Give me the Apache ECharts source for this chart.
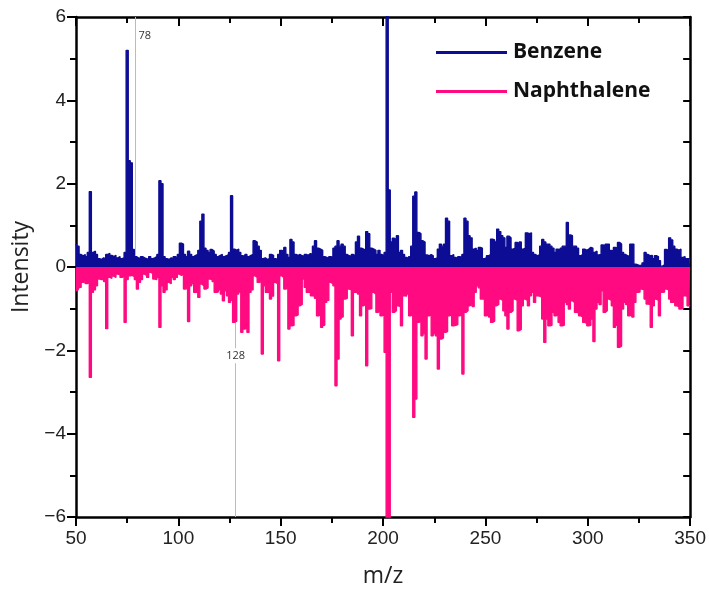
<!DOCTYPE html>
<html>
<head>
<meta charset="utf-8">
<script src="https://cdn.jsdelivr.net/npm/echarts@6/dist/echarts.min.js"></script>
<style>
html,body{margin:0;padding:0;background:#fff;}
#chart{width:709px;height:593px;}
</style>
</head>
<body>
<div id="chart"></div>
<script>
// m/z starts at 50, one value per integer m/z up to 350
const mzStart = 50;
const benzene = [
0.55,0.5,0.3,0.27,0.3,0.25,0.35,1.81,0.35,0.38,
0.3,0.2,0.18,0.22,0.2,0.3,0.33,0.28,0.25,0.28,
0.22,0.25,0.2,0.22,0.35,5.2,2.55,2.5,0.42,0.25,
0.22,0.2,0.25,0.22,0.2,0.18,0.25,0.2,0.22,0.25,
0.3,2.07,2.0,0.25,0.2,0.18,0.22,0.2,0.25,0.22,
0.3,0.57,0.55,0.3,0.25,0.38,0.3,0.25,0.28,0.3,
0.4,1.1,1.27,0.45,0.4,0.35,0.42,0.38,0.3,0.25,
0.28,0.3,0.25,0.27,0.3,0.35,1.71,0.43,0.4,0.43,
0.35,0.27,0.25,0.3,0.25,0.28,0.3,0.63,0.6,0.5,
0.4,0.2,0.22,0.18,0.2,0.3,0.28,0.2,0.18,0.3,
0.4,0.38,0.47,0.3,0.23,0.66,0.6,0.3,0.28,0.3,
0.27,0.25,0.3,0.28,0.32,0.3,0.5,0.63,0.45,0.43,
0.4,0.25,0.23,0.2,0.25,0.23,0.45,0.5,0.63,0.5,
0.55,0.5,0.3,0.27,0.25,0.3,0.27,0.6,0.74,0.45,
0.43,0.4,0.85,0.8,0.45,0.43,0.4,0.3,0.4,0.3,
0.27,0.35,7,1.85,0.6,0.69,0.65,0.75,0.35,0.4,
0.3,0.23,0.2,0.25,0.5,1.7,1.8,0.83,0.8,0.63,
0.6,0.29,0.27,0.3,0.27,0.2,0.22,0.43,0.55,0.5,
0.55,1.17,1.1,0.27,0.3,0.23,0.2,0.25,0.23,0.3,
1.17,1.1,0.75,0.7,0.43,0.45,0.4,0.47,0.45,0.2,
0.22,0.27,0.3,0.67,0.65,0.6,0.91,0.85,0.75,0.7,
0.47,0.74,0.7,0.43,0.45,0.59,0.55,0.6,0.43,0.45,
0.82,0.8,0.82,0.35,0.3,0.27,0.3,0.5,0.66,0.6,
0.55,0.55,0.5,0.45,0.35,0.43,0.4,0.45,0.5,0.5,
1.07,0.77,0.75,0.5,0.5,0.45,0.27,0.3,0.43,0.4,
0.43,0.47,0.45,0.35,0.38,0.29,0.3,0.53,0.5,0.55,
0.55,0.4,0.38,0.47,0.45,0.59,0.55,0.35,0.3,0.27,
0.25,0.55,0.55,0.07,0.05,0.03,0.05,0.1,0.35,0.3,
0.27,0.28,0.2,0.27,0.25,0.15,0.02,0.05,0.42,0.4,
0.7,0.65,0.5,0.43,0.4,0.43,0.23,0.25,0.2,0.2,
0.2
];
const naphthalene = [
-0.57,-0.55,-0.49,-0.37,-0.35,-0.4,-0.37,-2.65,-0.61,-0.55,
-0.45,-0.29,-0.3,-0.3,-0.35,-1.48,-0.25,-0.27,-0.22,-0.25,
-0.17,-0.19,-0.25,-0.22,-1.33,-0.3,-0.21,-0.2,-0.23,-0.3,
-0.53,-0.37,-0.3,-0.17,-0.2,-0.25,-0.13,-0.15,-0.29,-0.3,
-0.25,-1.45,-0.45,-0.61,-0.55,-0.37,-0.4,-0.25,-0.3,-0.25,
-0.17,-0.2,-0.17,-0.53,-0.5,-1.31,-0.45,-0.4,-0.61,-0.6,
-0.73,-0.41,-0.45,-0.53,-0.5,-0.29,-0.3,-0.35,-0.61,-0.6,
-0.55,-0.65,-0.81,-0.57,-0.69,-0.85,-0.8,-1.33,-1.3,-0.65,
-0.6,-1.57,-1.49,-1.45,-1.57,-0.61,-0.55,-0.21,-0.25,-0.37,
-0.35,-2.09,-0.45,-0.61,-0.6,-0.77,-0.7,-0.37,-0.4,-2.25,
-0.21,-0.25,-0.53,-0.5,-1.49,-1.41,-1.4,-1.17,-1.15,-0.93,
-0.9,-0.29,-0.49,-0.61,-0.6,-0.69,-0.7,-0.75,-1.17,-1.15,
-1.45,-1.4,-0.85,-0.8,-0.37,-0.4,-0.45,-2.85,-2.21,-1.25,
-1.2,-0.77,-0.75,-0.53,-0.55,-1.65,-0.61,-0.6,-0.65,-1.17,
-0.93,-0.9,-2.37,-1.01,-1.0,-0.61,-0.65,-1.09,-1.05,-1.17,
-1.15,-2.05,-7,-7,-0.61,-1.09,-1.05,-0.93,-0.95,-1.41,
-0.69,-0.7,-0.65,-1.17,-1.15,-3.61,-3.17,-1.33,-1.3,-1.65,
-1.6,-2.21,-1.17,-1.15,-1.65,-1.6,-1.65,-2.45,-1.73,-1.7,
-1.57,-1.55,-1.17,-1.15,-1.41,-1.4,-1.38,-1.17,-1.15,-2.57,
-1.09,-1.05,-0.93,-0.9,-0.95,-0.61,-0.45,-0.5,-0.77,-0.75,
-1.17,-1.15,-1.2,-1.33,-1.3,-0.93,-0.9,-0.77,-0.8,-1.05,
-1.17,-1.49,-1.09,-1.05,-0.77,-0.8,-1.53,-1.5,-0.93,-0.77,
-0.8,-0.93,-0.69,-0.61,-0.85,-0.69,-0.7,-0.72,-1.25,-1.81,
-1.25,-1.41,-1.4,-1.09,-1.17,-1.15,-1.33,-1.41,-1.4,-0.85,
-0.9,-1.01,-0.81,-0.85,-1.09,-1.1,-1.17,-1.2,-1.33,-1.35,
-1.41,-1.4,-1.25,-1.79,-1.01,-0.85,-0.9,-0.57,-1.09,-1.05,
-0.77,-0.8,-0.93,-1.45,-1.4,-1.93,-1.9,-1.01,-0.85,-0.9,
-1.17,-1.15,-1.2,-0.85,-0.61,-0.6,-0.53,-0.55,-0.77,-0.89,
-0.9,-1.45,-0.93,-0.77,-0.8,-1.17,-0.61,-0.6,-0.53,-0.55,
-0.77,-0.85,-0.85,-0.93,-0.95,-1.01,-1.0,-0.69,-0.7,-0.93,
-0.93
];
const seriesNames = ['Benzene', 'Naphthalene'];
const seriesColors = ['#0c0c94', '#ff0a80'];
const xTicks = [50, 100, 150, 200, 250, 300, 350];
const yTicks = [-6, -4, -2, 0, 2, 4, 6];
// annotation marker lines: position (m/z), label, label height, line span
const annotations = [
  {series: 0, mz: 78.7, label: '78', labelY: 5.55, from: 0, to: 6},
  {series: 1, mz: 128, label: '128', labelY: -2.13, from: 0, to: -6}
];

const toPairs = arr => arr.map((v, i) => [mzStart + i, v]);

const chart = echarts.init(document.getElementById('chart'), null, {renderer: 'canvas'});

const axisCommon = {
  axisLine: {show: true, onZero: false, lineStyle: {color: '#000', width: 2.5}},
  splitLine: {show: false},
  minorSplitLine: {show: false}
};

function annotationFor(idx) {
  const out = [];
  annotations.filter(a => a.series === idx).forEach(a => {
    out.push([
      {coord: [a.mz, a.from], symbol: 'none'},
      {coord: [a.mz, a.to], symbol: 'none'}
    ]);
  });
  return out;
}
function annotationLabels(idx) {
  return annotations.filter(a => a.series === idx).map(a => ({
    coord: [a.mz, a.labelY],
    value: a.label
  }));
}

const option = {
  animation: false,
  backgroundColor: '#fff',
  grid: {left: 76, right: 17, top: 17, bottom: 74, containLabel: false},
  legend: {
    data: seriesNames.map((n, i) => ({name: n, icon: 'rect', itemStyle: {color: seriesColors[i]}})),
    orient: 'vertical',
    left: 431,
    top: 37,
    itemWidth: 71,
    itemHeight: 3,
    itemGap: 18,
    textStyle: {fontFamily: 'Open Sans', fontWeight: 'bold', fontSize: 21, color: '#111', padding: [0, 0, 0, 1]}
  },
  xAxis: [
    Object.assign({}, axisCommon, {
      type: 'value', min: xTicks[0], max: xTicks[xTicks.length - 1], interval: 50,
      position: 'bottom',
      name: 'm/z', nameLocation: 'middle', nameGap: 48,
      nameTextStyle: {fontFamily: 'Open Sans', fontSize: 23, color: '#222'},
      axisTick: {show: true, inside: false, length: 9, lineStyle: {color: '#000', width: 2}},
      minorTick: {show: true, splitNumber: 2, length: 6, lineStyle: {color: '#000', width: 2}},
      axisLabel: {fontFamily: 'Liberation Sans', fontSize: 19, color: '#222', margin: 12}
    }),
    Object.assign({}, axisCommon, {
      type: 'value', min: xTicks[0], max: xTicks[xTicks.length - 1], interval: 50,
      position: 'top',
      axisTick: {show: true, inside: true, length: 9, lineStyle: {color: '#000', width: 2}},
      minorTick: {show: true, splitNumber: 2, length: 6, lineStyle: {color: '#000', width: 2}},
      axisLabel: {show: false}
    })
  ],
  yAxis: [
    Object.assign({}, axisCommon, {
      type: 'value', min: yTicks[0], max: yTicks[yTicks.length - 1], interval: 2,
      position: 'left',
      name: 'Intensity', nameLocation: 'middle', nameGap: 37,
      nameTextStyle: {fontFamily: 'Open Sans', fontSize: 23, color: '#222'},
      axisTick: {show: true, inside: false, length: 9, lineStyle: {color: '#000', width: 2}},
      minorTick: {show: true, splitNumber: 2, length: 6, lineStyle: {color: '#000', width: 2}},
      axisLabel: {fontFamily: 'Liberation Sans', fontSize: 19, color: '#222', margin: 10,
        formatter: v => (v < 0 ? '\u2212' + Math.abs(v) : String(v))}
    }),
    Object.assign({}, axisCommon, {
      type: 'value', min: yTicks[0], max: yTicks[yTicks.length - 1], interval: 2,
      position: 'right',
      axisTick: {show: true, inside: true, length: 7, lineStyle: {color: '#000', width: 2}},
      minorTick: {show: true, splitNumber: 2, length: 7, lineStyle: {color: '#000', width: 2}},
      axisLabel: {show: false}
    })
  ],
  series: [benzene, naphthalene].map((vals, i) => ({
    name: seriesNames[i],
    type: 'line',
    xAxisIndex: 0,
    yAxisIndex: 0,
    step: 'middle',
    data: toPairs(vals),
    symbol: 'none',
    showSymbol: false,
    clip: true,
    z: i === 0 ? 3 : 2,
    lineStyle: {color: seriesColors[i], width: 1.4},
    itemStyle: {color: seriesColors[i]},
    areaStyle: {color: seriesColors[i], opacity: 1},
    markLine: {
      silent: true,
      symbol: 'none',
      label: {show: false},
      lineStyle: {color: '#bbb', width: 1, type: 'solid'},
      data: annotationFor(i),
      z: 1
    },
    markPoint: {
      silent: true,
      symbol: 'rect',
      symbolSize: 0,
      label: {
        show: true,
        formatter: p => p.value,
        fontFamily: 'Open Sans',
        fontSize: 11,
        color: '#333',
        backgroundColor: i === 1 ? '#fff' : 'transparent',
        padding: [2, 1],
        offset: i === 0 ? [10, 0] : [0, 0]
      },
      data: annotationLabels(i)
    }
  }))
};
chart.setOption(option);
</script>
</body>
</html>
